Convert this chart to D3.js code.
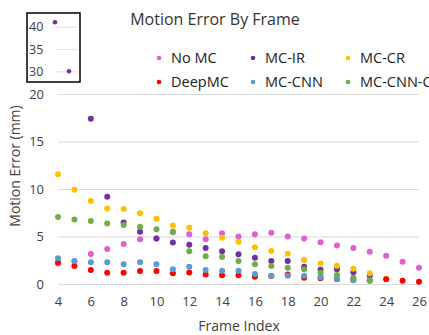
<!DOCTYPE html>
<html><head><meta charset="utf-8">
<script src="https://cdn.jsdelivr.net/npm/d3@7"></script>
<style>body{margin:0;background:#fff}svg{display:block}</style>
</head><body>
<svg id="c" width="429" height="335"></svg>
<script>
const frames = [4,5,6,7,8,9,10,11,12,13,14,15,16,17,18,19,20,21,22,23,24,25,26];
const seriesNames = ["No MC","MC-IR","MC-CR","DeepMC","MC-CNN","MC-CNN-C"];
const seriesColors = ["#DF5FCF","#7030A0","#FFC000","#FF0000","#5B9BD5","#70AD47"];
const noMC   = [2.15,2.4,3.17,3.68,4.2,4.72,4.8,5.45,5.23,4.7,5.35,5.0,5.23,5.4,5.0,4.8,4.39,4.04,3.79,3.4,2.98,2.35,1.72];
const mcIR   = [41,30,17.4,9.19,6.48,5.49,4.78,4.36,4.13,3.78,3.45,3.12,2.77,2.42,2.42,1.82,1.5,1.54,1.23,0.88,null,null,null];
const mcCR   = [11.55,9.93,8.73,7.96,7.89,7.46,6.87,6.16,5.92,5.33,4.88,4.46,3.86,3.47,3.19,2.52,2.17,1.93,1.61,1.12,0.55,null,null];
const deepMC = [2.27,1.9,1.47,1.18,1.18,1.38,1.38,1.12,1.22,1.0,0.93,0.92,0.77,0.85,1.0,0.67,0.6,0.5,0.42,0.38,0.49,0.35,0.25];
const mcCNN  = [2.7,2.41,2.3,2.3,2.07,2.3,2.07,1.54,1.82,1.47,1.4,1.4,1.05,0.88,0.88,0.88,0.72,0.53,0.39,0.35,null,null,null];
const mcCNNC = [7.04,6.8,6.62,6.37,6.2,6.02,5.77,5.49,3.44,2.91,2.85,2.42,2.07,1.89,1.72,1.54,1.18,0.95,0.67,0.39,null,null,null];
const seriesValues = [noMC,mcIR,mcCR,deepMC,mcCNN,mcCNNC];
const yTicks = [0,5,10,15,20];
const xTicks = [4,6,8,10,12,14,16,18,20,22,24,26];
const insetTicks = [30,35,40];

const FONT = "'Open Sans', sans-serif";
const TXT = "#404040";
const GRID = "#d9d9d9";
const svg = d3.select("#c");

const x = d3.scaleLinear().domain([4,26]).range([58,419]);
const y = d3.scaleLinear().domain([0,20]).range([284,94]);

// gridlines
const yAxis = d3.axisLeft(y).tickValues(yTicks).tickSize(-(419-58)).tickPadding(14).tickFormat(d3.format("d"));
const gy = svg.append("g").attr("transform","translate(58,0)").call(yAxis);
gy.select(".domain").remove();
gy.selectAll(".tick line").attr("stroke",GRID).attr("stroke-width",1.2);
gy.selectAll(".tick text").attr("fill",TXT).style("font-family",FONT).style("font-size","13px");

const xAxis = d3.axisBottom(x).tickValues(xTicks).tickSize(0).tickPadding(13).tickFormat(d3.format("d"));
const gx = svg.append("g").attr("transform","translate(0,284)").call(xAxis);
gx.select(".domain").remove();
gx.selectAll(".tick text").attr("fill",TXT).style("font-family",FONT).style("font-size","13px");

// points
seriesValues.forEach((vals,i)=>{
  const pts = frames.map((f,j)=>({f,v:vals[j]})).filter(d=>d.v!=null && d.v<=20);
  svg.append("g").selectAll("circle").data(pts).enter().append("circle")
    .attr("cx",d=>x(d.f)).attr("cy",d=>y(d.v)).attr("r",3).attr("fill",seriesColors[i]);
});

// title
svg.append("text").attr("x",215).attr("y",25).attr("text-anchor","middle")
  .attr("fill","#333").style("font-family",FONT).style("font-size","16px").text("Motion Error By Frame");

// axis titles
svg.append("text").attr("x",239).attr("y",331).attr("text-anchor","middle")
  .attr("fill",TXT).style("font-family",FONT).style("font-size","14px").text("Frame Index");
svg.append("text").attr("transform","translate(20,166) rotate(-90)").attr("text-anchor","middle")
  .attr("fill",TXT).style("font-family",FONT).style("font-size","14px").text("Motion Error (mm)");

// legend
const legX = [159,253,348], legY = [58,82];
seriesNames.forEach((n,i)=>{
  const cx = legX[i%3], cy = legY[Math.floor(i/3)];
  svg.append("circle").attr("cx",cx).attr("cy",cy).attr("r",2.3).attr("fill",seriesColors[i]);
  svg.append("text").attr("x",cx+12).attr("y",cy).attr("dy","0.35em")
    .attr("fill","#222").style("font-family",FONT).style("font-size","14.5px").text(n);
});

// inset for out-of-range values
const ix = d3.scaleLinear().domain([4,5]).range([55,69]);
const iy = d3.scaleLinear().domain([30,40]).range([71.3,26.7]);
const inset = svg.append("g");
inset.append("rect").attr("x",27).attr("y",13).attr("width",53).attr("height",69)
  .attr("fill","#fff").attr("stroke","#000").attr("stroke-width",1.5);
const iAxis = d3.axisLeft(iy).tickValues(insetTicks).tickSize(-22).tickPadding(0).tickFormat(d3.format("d"));
const gi = inset.append("g").attr("transform","translate(56,0)").call(iAxis);
gi.select(".domain").remove();
gi.selectAll(".tick line").attr("stroke","#e6e6e6").attr("stroke-width",1.2);
gi.selectAll(".tick text").attr("text-anchor","start").attr("x",-27).attr("fill",TXT)
  .style("font-family",FONT).style("font-size","12.5px");
const outPts = frames.map((f,j)=>({f,v:mcIR[j]})).filter(d=>d.v!=null && d.v>20);
inset.selectAll("circle.o").data(outPts).enter().append("circle")
  .attr("cx",d=>ix(d.f)).attr("cy",d=>iy(d.v)).attr("r",2.3).attr("fill",seriesColors[1]);
</script>
</body></html>
